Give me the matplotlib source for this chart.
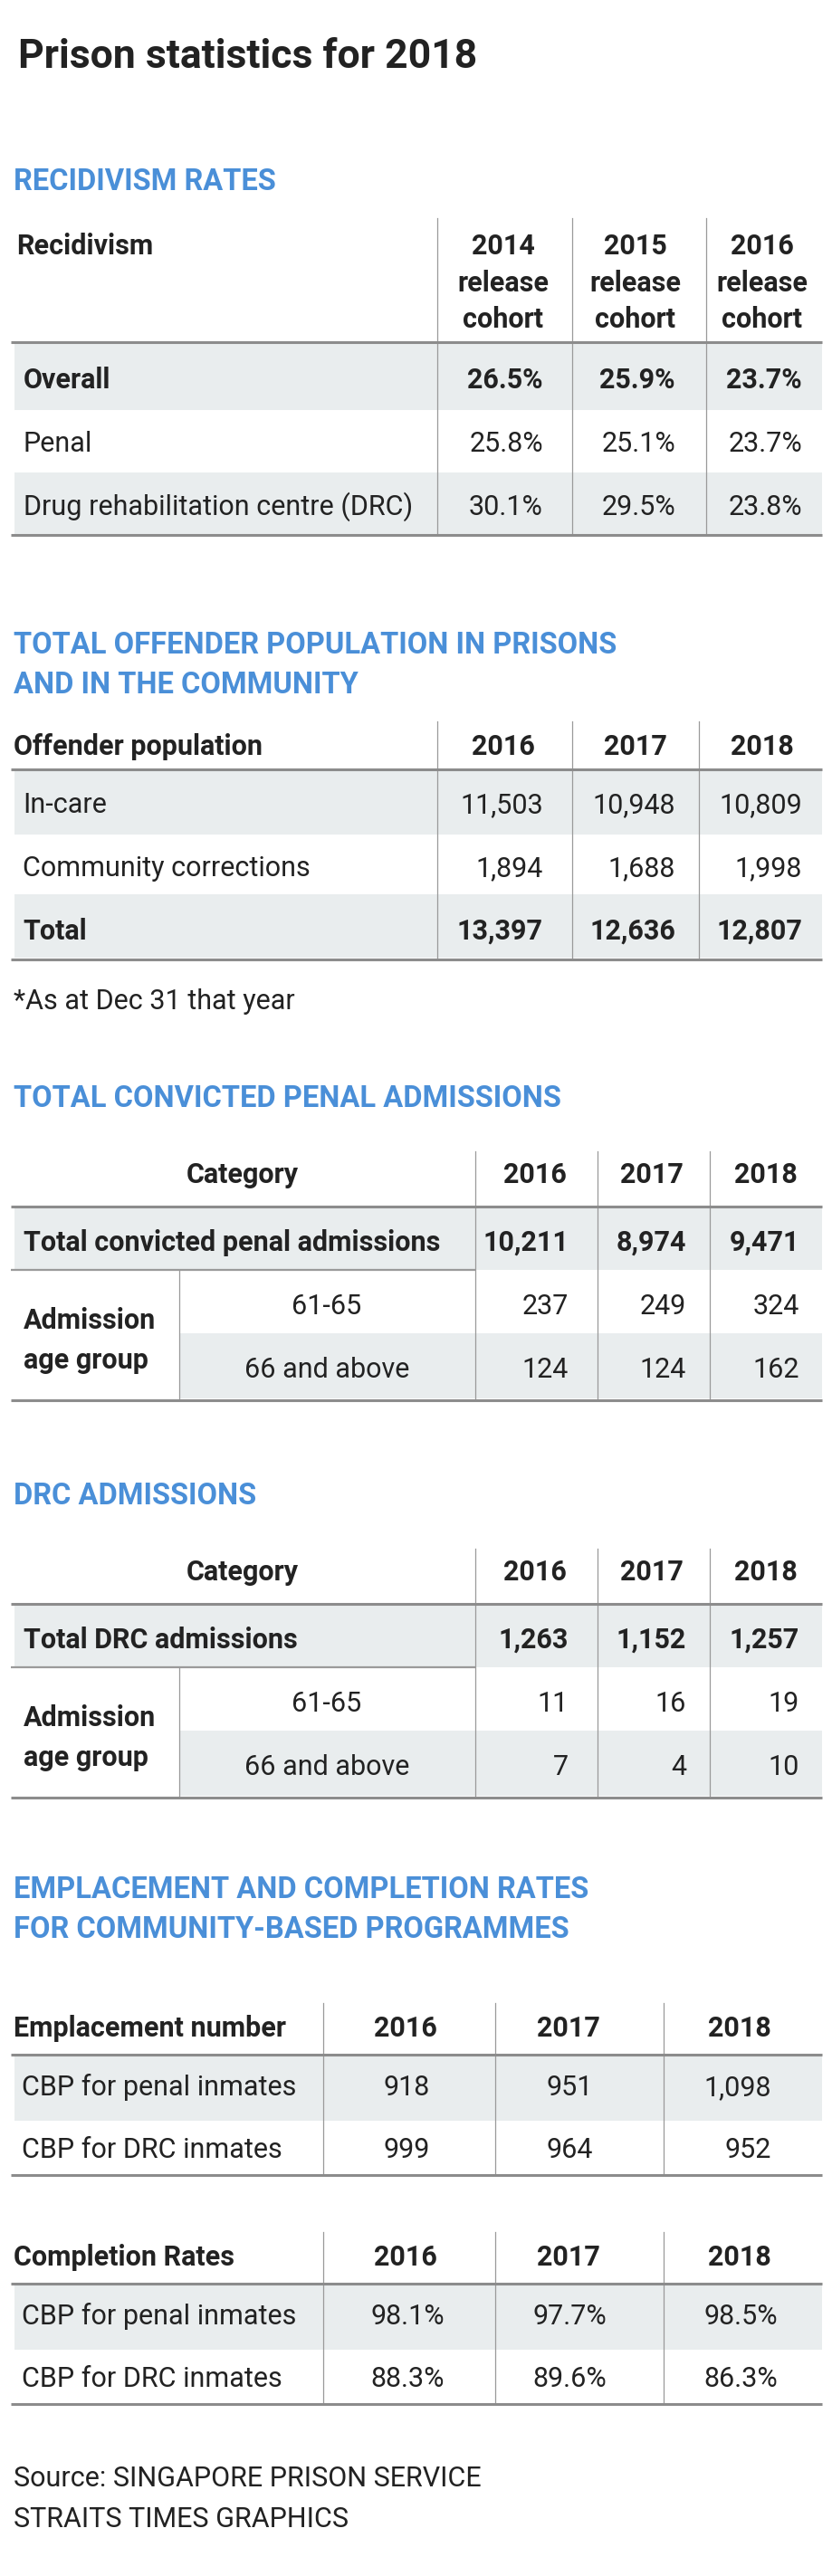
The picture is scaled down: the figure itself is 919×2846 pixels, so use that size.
import matplotlib
matplotlib.use("Agg")
import matplotlib.pyplot as plt
from matplotlib import font_manager

# pick a narrow family if one is there, the original uses a condensed face
names = {f.name for f in font_manager.fontManager.ttflist}
FONT = "Liberation Sans Narrow" if "Liberation Sans Narrow" in names else "Roboto"

# ---- data ----
recid_cols = ["2014\nrelease\ncohort", "2015\nrelease\ncohort", "2016\nrelease\ncohort"]
recid_rows = ["Overall", "Penal", "Drug rehabilitation centre (DRC)"]
recid_vals = [[26.5, 25.9, 23.7],
              [25.8, 25.1, 23.7],
              [30.1, 29.5, 23.8]]

years = ["2016", "2017", "2018"]

offender_rows = ["In-care", "Community corrections", "Total"]
offender_vals = [[11503, 10948, 10809],
                 [1894, 1688, 1998],
                 [13397, 12636, 12807]]

age_groups = ["61-65", "66 and above"]
penal_total = [10211, 8974, 9471]
penal_age = [[237, 249, 324],
             [124, 124, 162]]
drc_total = [1263, 1152, 1257]
drc_age = [[11, 16, 19],
           [7, 4, 10]]

cbp_rows = ["CBP for penal inmates", "CBP for DRC inmates"]
emplacement = [[918, 951, 1098],
               [999, 964, 952]]
completion = [[98.1, 97.7, 98.5],
              [88.3, 89.6, 86.3]]

# ---- style ----
BLUE = "#4a8fd8"
INK = "#222222"
SHADE = "#e9edee"
RULE = "#8c8c8c"
VLINE = "#9a9a9a"
FS = 22          # body text
FS_HEAD = 23.5   # section headings
L, R = 12, 908   # table edges

plt.rcParams["font.family"] = [FONT, "DejaVu Sans"]

fig = plt.figure(figsize=(9.2, 28.46), dpi=100)
ax = fig.add_axes([0, 0, 1, 1])
ax.set_xlim(0, 920)
ax.set_ylim(2846, 0)
ax.axis("off")


def txt(x, y, s, bold=False, ha="left", size=FS, color=INK):
    ax.text(x, y, s, ha=ha, va="baseline", fontsize=size, color=color,
            fontweight="bold" if bold else "normal")


def heading(x, y, s):
    txt(x, y, s, bold=True, size=FS_HEAD, color=BLUE)


def shade(y0, y1, x0=16, x1=R):
    ax.fill_between([x0, x1], y0, y1, color=SHADE, lw=0, zorder=0)


def hrule(y, x0=L, x1=R, lw=2.2, color=RULE):
    ax.plot([x0, x1], [y, y], color=color, lw=lw, solid_capstyle="butt", zorder=2)


def vlines(xs, y0, y1):
    for x in xs:
        ax.plot([x, x], [y0, y1], color=VLINE, lw=0.9, zorder=1)


# title
txt(20, 75, "Prison statistics for 2018", bold=True, size=32)

# ---- recidivism ----
heading(15, 210, "RECIDIVISM RATES")
shade(379, 453)
shade(522, 590)
vlines([483, 632, 780], 241, 591)
txt(18, 281, "Recidivism", bold=True)
for cx, lab in zip([556, 702, 842], recid_cols):
    for k, part in enumerate(lab.split("\n")):
        txt(cx, 281 + 40.5 * k, part, bold=True, ha="center")
hrule(378)
for i, (lab, row) in enumerate(zip(recid_rows, recid_vals)):
    yb = 429 + 70 * i
    txt(26, yb, lab, bold=(i == 0))
    for rx, v in zip([600, 746, 886], row):
        txt(rx, yb, f"{v:.1f}%", bold=(i == 0), ha="right")
hrule(591)

# ---- offender population ----
heading(15, 722, "TOTAL OFFENDER POPULATION IN PRISONS")
heading(15, 766, "AND IN THE COMMUNITY")
shade(852, 922)
shade(988, 1058)
vlines([483, 632, 772], 797, 1058)
txt(15, 834, "Offender population", bold=True)
for cx, y in zip([556, 702, 842], years):
    txt(cx, 834, y, bold=True, ha="center")
hrule(850)
for i, (lab, row) in enumerate(zip(offender_rows, offender_vals)):
    yb = 898 + 70 * i
    last = i == len(offender_rows) - 1
    txt(25, yb, lab, bold=last)
    for rx, v in zip([600, 746, 886], row):
        txt(rx, yb, f"{v:,}", bold=last, ha="right")
hrule(1060)
txt(15, 1115, "*As at Dec 31 that year")


# ---- admissions tables (same layout, shifted) ----
def admissions(top, title, total_label, total, age_vals):
    heading(15, top - 49, title)
    shade(top + 63, top + 131)
    shade(top + 201, top + 273, x0=198)
    vlines([525, 660, 784], top, top + 273)
    vlines([198], top + 131, top + 275)
    txt(268, top + 35, "Category", bold=True, ha="center")
    for cx, y in zip([591, 720, 846], years):
        txt(cx, top + 35, y, bold=True, ha="center")
    hrule(top + 61)
    txt(26, top + 110, total_label, bold=True)
    for rx, v in zip([628, 758, 883], total):
        txt(rx, top + 110, f"{v:,}", bold=True, ha="right")
    hrule(top + 131, x1=525, lw=1.6, color=VLINE)
    txt(26, top + 196, "Admission", bold=True)
    txt(26, top + 240, "age group", bold=True)
    for j, (grp, row) in enumerate(zip(age_groups, age_vals)):
        yb = top + 180 + 70 * j
        txt(361, yb, grp, ha="center")
        for rx, v in zip([628, 758, 883], row):
            txt(rx, yb, f"{v:,}", ha="right")
    hrule(top + 275)


admissions(1272, "TOTAL CONVICTED PENAL ADMISSIONS",
           "Total convicted penal admissions", penal_total, penal_age)
admissions(1711, "DRC ADMISSIONS", "Total DRC admissions", drc_total, drc_age)

# ---- community-based programmes ----
heading(15, 2097, "EMPLACEMENT AND COMPLETION RATES")
heading(15, 2141, "FOR COMMUNITY-BASED PROGRAMMES")


def cbp_table(top, header, vals, fmt, val_x):
    shade(top + 59, top + 130)
    vlines([357, 547, 733], top, top + 190)
    txt(15, top + 37, header, bold=True)
    for cx, y in zip([448, 628, 817], years):
        txt(cx, top + 37, y, bold=True, ha="center")
    hrule(top + 57)
    for i, (lab, row) in enumerate(zip(cbp_rows, vals)):
        yb = top + 102 + 69 * i
        txt(24, yb, lab)
        for rx, v in zip(val_x, row):
            txt(rx, yb, fmt(v), ha="right")
    hrule(top + 190)


cbp_table(2213, "Emplacement number", emplacement, lambda v: f"{v:,}", [475, 655, 852])
cbp_table(2466, "Completion Rates", completion, lambda v: f"{v:.1f}%", [491, 670, 859])

txt(15, 2747, "Source: SINGAPORE PRISON SERVICE")
txt(15, 2792, "STRAITS TIMES GRAPHICS")

fig.savefig("out.png", dpi=100, facecolor="white")
